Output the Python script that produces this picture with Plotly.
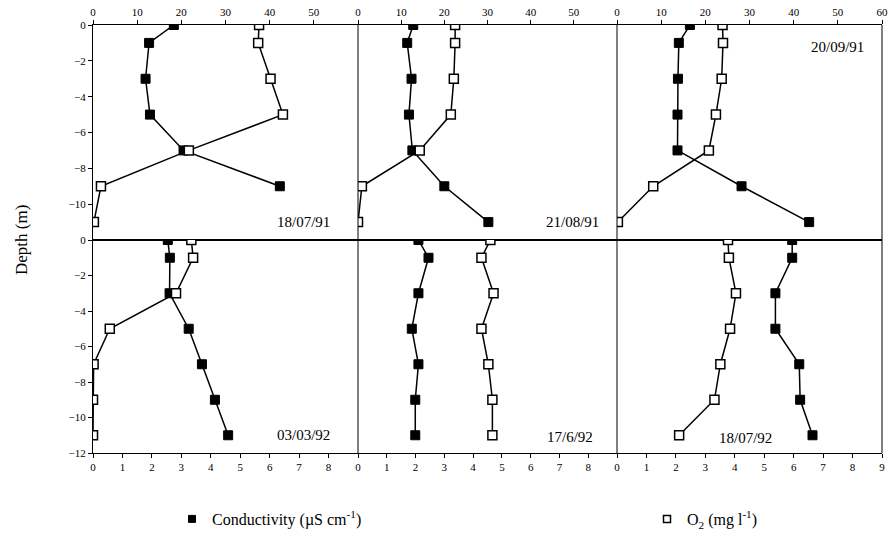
import plotly.graph_objects as go

# ---------------- data ----------------
depth_cond_first = [0, -1, -3, -5, -7, -9]
depth_all = [0, -1, -3, -5, -7, -9, -11]

dates = ["18/07/91", "21/08/91", "20/09/91", "03/03/92", "17/6/92", "18/07/92"]

cond_180791 = [18.3, 12.7, 11.9, 12.9, 20.5, 42.3]
o2_180791 = [37.6, 37.4, 40.2, 43.0, 21.7, 1.8, 0.2]

cond_210891 = [12.8, 11.4, 12.4, 11.8, 12.6, 20.0, 30.2]
o2_210891 = [22.5, 22.5, 22.2, 21.5, 14.3, 0.9, 0.0]

cond_200991 = [16.5, 14.0, 13.8, 13.7, 13.7, 28.2, 43.5]
o2_200991 = [23.9, 24.0, 23.7, 22.4, 20.8, 8.2, 0.2]

cond_030392 = [2.54, 2.61, 2.60, 3.25, 3.70, 4.14, 4.59]
o2_030392 = [3.34, 3.40, 2.82, 0.57, 0.02, 0.0, 0.0]

cond_170692 = [2.10, 2.45, 2.10, 1.87, 2.10, 1.99, 1.99]
o2_170692 = [4.60, 4.29, 4.71, 4.29, 4.53, 4.67, 4.67]

cond_180792 = [5.95, 5.95, 5.38, 5.38, 6.19, 6.22, 6.64]
o2_180792 = [3.77, 3.80, 4.04, 3.84, 3.51, 3.31, 2.11]

cond_series = [cond_180791, cond_210891, cond_200991, cond_030392, cond_170692, cond_180792]
o2_series = [o2_180791, o2_210891, o2_200991, o2_030392, o2_170692, o2_180792]
cond_depths = [depth_cond_first, depth_all, depth_all, depth_all, depth_all, depth_all]

top_ticks_short = [0, 10, 20, 30, 40, 50]
top_ticks_full = [0, 10, 20, 30, 40, 50, 60]
bot_ticks = list(range(10))
bot_labels_short = [str(i) for i in range(9)] + [""]
bot_labels_full = [str(i) for i in range(10)]
y_ticks_top = [0, -2, -4, -6, -8, -10]
y_ticks_bot = [0, -2, -4, -6, -8, -10, -12]

legend_names = ["Conductivity (µS cm<sup>-1</sup>)", "O<sub>2</sub> (mg l<sup>-1</sup>)"]

# ---------------- layout geometry ----------------
W, H = 894, 536
L, R, T, B = 93, 882, 25, 453
MID = 240
PX = [93, 358, 617, 882]


def xp(px):
    return (px - L) / (R - L)


def yp(py):
    return (B - py) / (B - T)


FONT = "Liberation Serif"
fig = go.Figure()

axis_names = ["x", "x2", "x3", "x4", "x5", "x6"]
for i in range(6):
    xa = axis_names[i]
    ya = "y" if i < 3 else "y2"
    fig.add_trace(go.Scatter(
        x=cond_series[i], y=cond_depths[i], xaxis=xa, yaxis=ya,
        mode="lines+markers", showlegend=False,
        line=dict(color="black", width=1.5),
        marker=dict(symbol="square", size=9, color="black",
                    line=dict(color="black", width=1)),
    ))
    fig.add_trace(go.Scatter(
        x=o2_series[i], y=depth_all, xaxis=xa, yaxis=ya,
        mode="lines+markers", showlegend=False,
        line=dict(color="black", width=1.5),
        marker=dict(symbol="square", size=9, color="white",
                    line=dict(color="black", width=1.5)),
    ))

# legend-only entries
fig.add_trace(go.Scatter(x=[None], y=[None], mode="markers", name=legend_names[0],
                         legend="legend",
                         marker=dict(symbol="square", size=7, color="black",
                                     line=dict(color="black", width=1))))
fig.add_trace(go.Scatter(x=[None], y=[None], mode="markers", name=legend_names[1],
                         legend="legend2",
                         marker=dict(symbol="square", size=7, color="white",
                                     line=dict(color="black", width=1.5))))

tickfont = dict(family=FONT, size=11, color="black")
common_x = dict(showgrid=False, zeroline=False, showline=True, mirror=True,
                linecolor="black", linewidth=1, ticks="outside", ticklen=4,
                tickcolor="black", tickfont=tickfont, fixedrange=True,
                automargin=False)

lay = {}
for i in range(6):
    key = "xaxis" if i == 0 else f"xaxis{i + 1}"
    col = i % 3
    dom = [xp(PX[col]), xp(PX[col + 1])]
    if i < 3:
        tv = top_ticks_full if col == 2 else top_ticks_short
        lay[key] = dict(common_x, domain=dom, range=[0, 60], side="top",
                        anchor="y", tickvals=tv)
    else:
        tt = bot_labels_full if col == 2 else bot_labels_short
        lay[key] = dict(common_x, domain=dom, range=[0, 9], side="bottom",
                        anchor="y2", tickvals=bot_ticks, ticktext=tt)

common_y = dict(showgrid=False, zeroline=False, showline=True, linecolor="black",
                linewidth=1, ticks="outside", ticklen=4, tickcolor="black",
                tickfont=tickfont, range=[-12, 0], fixedrange=True, automargin=False)
lay["yaxis"] = dict(common_y, domain=[yp(MID), 1], anchor="x", tickvals=y_ticks_top)
lay["yaxis2"] = dict(common_y, domain=[0, yp(MID)], anchor="x4", tickvals=y_ticks_bot)

shapes = []
for px in PX[1:]:
    shapes.append(dict(type="line", xref="paper", yref="paper",
                       x0=xp(px), x1=xp(px), y0=0, y1=1,
                       line=dict(color="black", width=1)))

label_pos = [(303, 222), (572, 222), (837, 47), (303, 435), (570, 437), (745, 438)]
annotations = []
for d, (lx, ly) in zip(dates, label_pos):
    annotations.append(dict(text=d, x=xp(lx), y=yp(ly), xref="paper", yref="paper",
                            showarrow=False, xanchor="center", yanchor="middle",
                            font=dict(family=FONT, size=15, color="black")))
annotations.append(dict(text="Depth (m)", x=xp(22), y=yp(MID), xref="paper", yref="paper",
                        showarrow=False, textangle=-90, xanchor="center", yanchor="middle",
                        font=dict(family=FONT, size=17, color="black")))

legend_common = dict(orientation="h", xanchor="left", yanchor="middle",
                     font=dict(family=FONT, size=16, color="black"),
                     bgcolor="rgba(0,0,0,0)")

fig.update_layout(
    width=W, height=H,
    margin=dict(l=L, r=W - R, t=T, b=H - B, autoexpand=False),
    paper_bgcolor="white", plot_bgcolor="white",
    shapes=shapes, annotations=annotations,
    showlegend=True,
    legend=dict(legend_common, x=xp(172), y=yp(519)),
    legend2=dict(legend_common, x=xp(647), y=yp(519)),
    **lay,
)

fig.write_html("out.html", config={"displayModeBar": False},
               post_script="document.body.style.margin='0px';document.body.style.overflow='hidden';")
